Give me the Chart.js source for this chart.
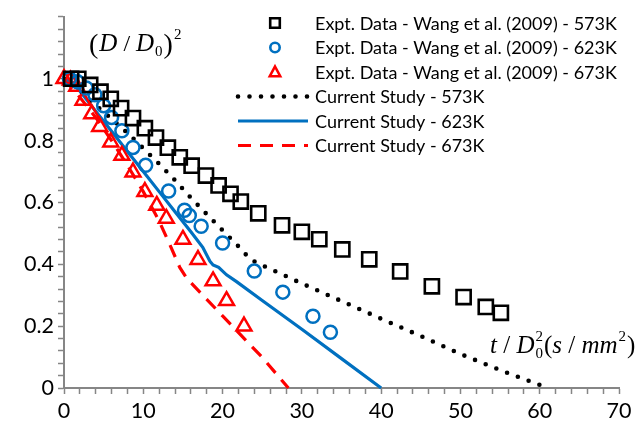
<!DOCTYPE html>
<html><head><meta charset="utf-8">
<script src="https://cdn.jsdelivr.net/npm/chart.js@4/dist/chart.umd.min.js"></script>
<style>html,body{margin:0;padding:0;background:#fff;overflow:hidden}#c{display:block}</style>
</head><body>
<canvas id="c" width="642" height="430"></canvas>
<script>
// ---- data ----
const expt573 = [[0.9,1.0],[1.8,1.0],[3.3,0.98],[4.6,0.958],[5.9,0.935],[7.2,0.905],[8.7,0.873],[10.2,0.84],[11.6,0.81],[13.1,0.777],[14.6,0.746],[16.1,0.719],[17.9,0.687],[19.5,0.655],[21.0,0.628],[22.3,0.603],[24.5,0.565],[27.5,0.526],[30.0,0.505],[32.2,0.481],[35.1,0.448],[38.5,0.416],[42.4,0.377],[46.4,0.329],[50.4,0.294],[53.2,0.262],[55.1,0.243]];
const expt623 = [[0.7,1.0],[1.7,0.99],[2.8,0.97],[3.9,0.948],[5.0,0.913],[6.0,0.875],[7.3,0.832],[8.7,0.778],[10.3,0.72],[13.2,0.637],[15.2,0.575],[15.8,0.558],[17.3,0.523],[20.0,0.469],[24.0,0.378],[27.6,0.31],[31.4,0.232],[33.6,0.18]];
const expt673 = [[0,1.0],[0.8,0.995],[1.6,0.975],[2.4,0.93],[3.5,0.886],[4.5,0.845],[5.9,0.795],[7.3,0.752],[8.7,0.698],[10.2,0.635],[11.7,0.59],[12.9,0.548],[15.0,0.48],[16.9,0.415],[18.8,0.346],[20.5,0.282],[22.7,0.2]];
const model573 = [[0,1.0],[2,0.96],[4,0.915],[6,0.87],[8,0.825],[10,0.775],[12,0.725],[14,0.672],[16,0.615],[18,0.562],[20,0.51],[22,0.458],[23.5,0.416],[25,0.397],[30,0.338],[35,0.281],[40,0.224],[45,0.168],[50,0.11],[55,0.058],[60,0.01]];
const model623 = [[0,1.0],[1,0.99],[2,0.96],[4,0.895],[6,0.83],[8,0.765],[10,0.70],[12,0.635],[14,0.57],[16,0.505],[17.5,0.455],[18.4,0.41],[18.8,0.398],[19.5,0.39],[20.5,0.366],[21.8,0.343],[25,0.283],[30,0.19],[35,0.095],[40,0.0]];
const model673 = [[0,1.0],[2,0.94],[4,0.875],[6,0.8],[8,0.72],[10,0.635],[12,0.54],[13.5,0.455],[14.6,0.39],[15.5,0.354],[20,0.233],[25,0.099],[28.3,0.0]];
const seriesLabels = ['Expt. Data - Wang et al. (2009) - 573K','Expt. Data - Wang et al. (2009) - 623K','Expt. Data - Wang et al. (2009) - 673K','Current Study - 573K','Current Study - 623K','Current Study - 673K'];
const xTickLabels = ['0','10','20','30','40','50','60','70'];
const yTickLabels = ['0','0.2','0.4','0.6','0.8','1'];

const toXY = a => a.map(p => ({x:p[0], y:p[1]}));
const BLACK='#000000', BLUE='#0070C0', RED='#FF0000', AXIS='#868686';

const datasets = [
  {label:seriesLabels[0], data:toXY(expt573), showLine:false, pointStyle:'rect', pointRadius:10, borderColor:BLACK, backgroundColor:'rgba(0,0,0,0)', pointBorderWidth:2.6, order:1},
  {label:seriesLabels[1], data:toXY(expt623), showLine:false, pointStyle:'circle', pointRadius:6.5, borderColor:BLUE, backgroundColor:'rgba(0,0,0,0)', pointBorderWidth:2.5, order:2},
  {label:seriesLabels[2], data:toXY(expt673), showLine:false, pointStyle:'triangle', pointRadius:8.6, borderColor:RED, backgroundColor:'rgba(0,0,0,0)', pointBorderWidth:2.5, order:3},
  {label:seriesLabels[3], data:toXY(model573), showLine:true, pointRadius:0, borderColor:BLACK, borderWidth:4.6, borderDash:[0,11.5], borderCapStyle:'round', order:4},
  {label:seriesLabels[4], data:toXY(model623), showLine:true, pointRadius:0, borderColor:BLUE, borderWidth:3.2, order:5},
  {label:seriesLabels[5], data:toXY(model673), showLine:true, pointRadius:0, borderColor:RED, borderWidth:3.2, borderDash:[13,9], order:6}
];

function isMultiple(v, step){ const r = v/step; return Math.abs(r-Math.round(r))<1e-6; }

const overlay = {
  id:'overlay',
  afterDraw(chart){
    const ctx = chart.ctx;
    ctx.save();
    // legend
    const rowY0 = 23, rowStep = 24.5, symX = 275, lineX0 = 238, lineX1 = 308, textX = 315;
    let fs = 20;
    ctx.font = fs+'px Lato';
    const w = ctx.measureText(seriesLabels[0]).width;
    fs = fs*302/w;
    chart.data.datasets.forEach((ds,i)=>{
      const y = rowY0 + i*rowStep;
      if(!ds.showLine){
        ctx.strokeStyle = ds.borderColor; ctx.lineWidth=2.6; ctx.setLineDash([]);
        ctx.beginPath();
        if(ds.pointStyle==='rect'){ ctx.rect(symX-4.8,y-4.8,9.6,9.6); }
        else if(ds.pointStyle==='circle'){ ctx.arc(symX,y,4.7,0,Math.PI*2); }
        else { ctx.moveTo(symX,y-5.5); ctx.lineTo(symX+5.2,y+4.2); ctx.lineTo(symX-5.2,y+4.2); ctx.closePath(); }
        ctx.stroke();
      } else {
        ctx.strokeStyle = ds.borderColor; ctx.lineWidth = ds.borderWidth;
        ctx.setLineDash(ds.borderDash||[]); ctx.lineCap = ds.borderCapStyle||'butt';
        ctx.beginPath(); ctx.moveTo(lineX0,y); ctx.lineTo(lineX1,y); ctx.stroke();
        ctx.setLineDash([]); ctx.lineCap='butt';
      }
      ctx.fillStyle='#000'; ctx.font = fs+'px Lato'; ctx.textBaseline='middle'; ctx.textAlign='left';
      ctx.fillText(ds.label, textX, y+1);
    });
    // axis titles (math-style)
    ctx.fillStyle='#000'; ctx.textBaseline='alphabetic';
    const serif = 'Liberation Serif';
    function put(txt, font, x, y){ ctx.font = font; ctx.fillText(txt, x, y); return x + ctx.measureText(txt).width; }
    // y title: (D / D0)^2
    let bx = 89, by = 51;
    bx = put('(', '28px '+serif, bx, by+2);
    bx = put('D', 'italic 25px '+serif, bx+1, by);
    bx = put(' / ', '24px '+serif, bx, by);
    bx = put('D', 'italic 25px '+serif, bx, by);
    bx = put('0', '15px '+serif, bx+1, by+5);
    bx = put(')', '28px '+serif, bx+1, by+2);
    put('2', '15px '+serif, bx+1, by-12);
    // x title: t / D0^2 (s / mm^2)
    bx = 490; by = 353;
    bx = put('t', 'italic 25px '+serif, bx, by);
    bx = put(' / ', '25px '+serif, bx, by);
    bx = put('D', 'italic 25px '+serif, bx, by);
    put('2', '15px '+serif, bx+1, by-12);
    bx = put('0', '15px '+serif, bx+1, by+5);
    bx = put('(', '25px '+serif, bx+1, by);
    bx = put('s', 'italic 25px '+serif, bx, by);
    bx = put(' / ', '25px '+serif, bx, by);
    bx = put('mm', 'italic 25px '+serif, bx, by);
    bx = put('2', '15px '+serif, bx+1, by-12);
    put(')', '25px '+serif, bx+1, by);
    ctx.restore();
  }
};

new Chart(document.getElementById('c'), {
  type:'scatter',
  data:{datasets},
  options:{
    responsive:false, animation:false, devicePixelRatio:1,
    layout:{padding:{top:16,right:23,left:0,bottom:0}},
    elements:{line:{tension:0, fill:false}},
    datasets:{scatter:{clip:false}},
    plugins:{legend:{display:false}, tooltip:{enabled:false}},
    scales:{
      x:{type:'linear', min:0, max:70,
        afterFit(s){ s.height = 42; },
        border:{color:AXIS, width:2},
        grid:{drawOnChartArea:false, drawTicks:true, tickLength:6, tickColor:AXIS, tickWidth:1.5},
        ticks:{stepSize:2, autoSkip:false, maxRotation:0, maxTicksLimit:100, padding:4, color:'#000', font:{family:'Lato', size:21.5},
          callback:(v)=> isMultiple(v,10) ? xTickLabels[Math.round(v/10)] : ''}
      },
      y:{type:'linear', min:0, max:1.2,
        afterFit(s){ s.width = 64; },
        border:{color:AXIS, width:2},
        grid:{drawOnChartArea:false, drawTicks:true, tickLength:6, tickColor:AXIS, tickWidth:1.5},
        ticks:{stepSize:0.04, autoSkip:false, maxTicksLimit:100, padding:4, color:'#000', font:{family:'Lato', size:21.5},
          callback:(v)=> (isMultiple(v,0.2) && v<1.1) ? yTickLabels[Math.round(v/0.2)] : ''}
      }
    }
  },
  plugins:[overlay]
});
</script>
</body></html>
